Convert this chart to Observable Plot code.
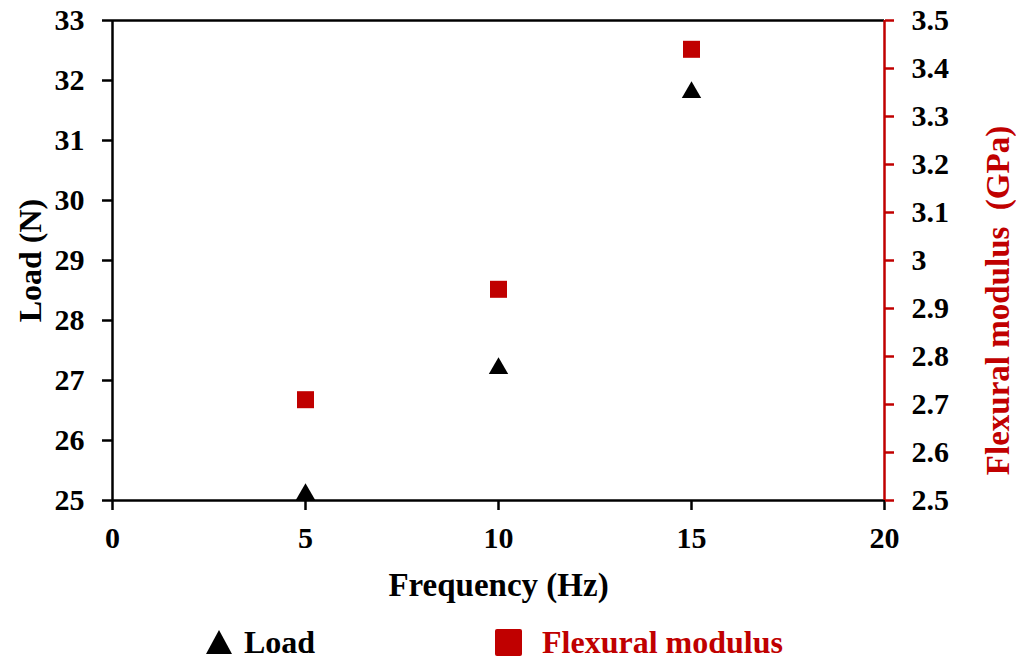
<!DOCTYPE html>
<html>
<head>
<meta charset="utf-8">
<script src="https://cdn.jsdelivr.net/npm/d3@7"></script>
<script src="https://cdn.jsdelivr.net/npm/@observablehq/plot@0.6"></script>
<style>
  html, body { margin: 0; padding: 0; background: #fff; }
  #wrap { position: relative; width: 1016px; height: 664px; font-family: "Liberation Serif", "Times New Roman", serif; font-weight: bold; }
  #legend { position: absolute; left: 0; top: 620px; width: 1016px; height: 44px; }
  .item { position: absolute; top: 0; height: 44px; display: flex; align-items: center; font-size: 32px; }
</style>
</head>
<body>
<div id="wrap">
  <div id="chart"></div>
  <div id="legend">
    <div class="item" style="left:205px;">
      <svg width="28" height="26" style="margin-right:11px"><path d="M14,1 L27,25 L1,25 Z" fill="#000"/></svg>
      <span style="color:#000">Load</span>
    </div>
    <div class="item" style="left:495px;">
      <svg width="27" height="27" style="margin-right:20px"><rect x="0" y="0" width="27" height="27" rx="2" fill="#C00000"/></svg>
      <span style="color:#C00000">Flexural modulus</span>
    </div>
  </div>
</div>
<script>
const frequency = [5, 10, 15];
const load = [25.1, 27.2, 31.8];
const modulus = [2.71, 2.94, 3.44];
const freqTicks = [0, 5, 10, 15, 20];
const loadTicks = [25, 26, 27, 28, 29, 30, 31, 32, 33];
const modTicks = [2.5, 2.6, 2.7, 2.8, 2.9, 3.0, 3.1, 3.2, 3.3, 3.4, 3.5];

const red = "#C00000";
// map modulus (GPa) onto the Load scale: 2.5..3.5 -> 25..33
const toLoad = m => 25 + (m - 2.5) * 8;
const fromLoad = v => 2.5 + (v - 25) / 8;

const chart = Plot.plot({
  width: 1016,
  height: 620,
  marginLeft: 112,
  marginRight: 132,
  marginTop: 20,
  marginBottom: 120,
  style: { fontFamily: "Liberation Serif, Times New Roman, serif", fontSize: "30px", fontWeight: "bold", background: "#fff", overflow: "visible" },
  x: { domain: [0, 20] },
  y: { domain: [25, 33] },
  marks: [
    Plot.axisX({ ticks: freqTicks, tickSize: 10, tickPadding: 16, strokeWidth: 2.5, fill: "#000", label: null, tickFormat: d => String(d) }),
    Plot.axisY({ anchor: "left", ticks: loadTicks, tickSize: 10, tickPadding: 18, strokeWidth: 2.5, fill: "#000", label: null, tickFormat: d => String(d) }),
    Plot.axisY({ anchor: "right", ticks: modTicks.map(toLoad), tickSize: 9, tickPadding: 18, strokeWidth: 2.5, stroke: red, fill: "#000", label: null,
                 tickFormat: d => String(+fromLoad(d).toFixed(1)) }),
    Plot.ruleY([33], { stroke: "#000", strokeWidth: 2.5 }),
    Plot.ruleY([25], { stroke: "#000", strokeWidth: 2.5 }),
    Plot.ruleX([0], { stroke: "#000", strokeWidth: 2.5 }),
    Plot.ruleX([20], { stroke: red, strokeWidth: 2.5 }),
    Plot.dot(frequency, { x: d => d, y: (d, i) => toLoad(modulus[i]), symbol: "square", r: 9.6, fill: red, stroke: null }),
    Plot.dot(frequency, { x: d => d, y: (d, i) => load[i], symbol: "triangle", r: 7.2, fill: "#000", stroke: null }),
    Plot.text(["Frequency (Hz)"], { frameAnchor: "bottom", dy: 85, fontSize: 33, fontWeight: "bold", fill: "#000", textAnchor: "middle", lineAnchor: "middle" }),
    Plot.text(["Load (N)"], { frameAnchor: "left", dx: -82, rotate: -90, fontSize: 32, fontWeight: "bold", fill: "#000", textAnchor: "middle", lineAnchor: "middle" }),
    Plot.text(["Flexural modulus  (GPa)"], { frameAnchor: "right", dx: 114, dy: 40, rotate: -90, fontSize: 33, fontWeight: "bold", fill: red, textAnchor: "middle", lineAnchor: "middle" })
  ]
});
document.getElementById("chart").appendChild(chart);
</script>
</body>
</html>
